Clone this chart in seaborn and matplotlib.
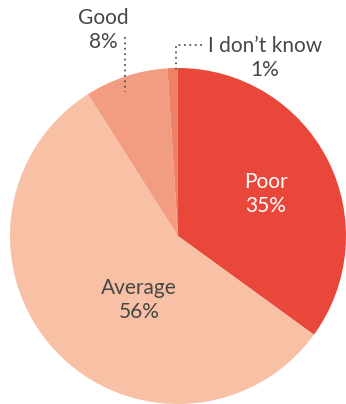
import numpy as np
import seaborn as sns
import matplotlib.pyplot as plt

# survey answers, clockwise from 12 o'clock
categories = ['Poor', 'Average', 'Good', "I don\u2019t know"]
shares = [35, 56, 8, 1]
colors = ['#E8473A', '#F8C0A5', '#F29C82', '#EE8066']

sns.set_style('white')
plt.rcParams['font.family'] = ['Lato', 'DejaVu Sans']

W, H = 346, 404
cx, cy, R = 178, 236, 168  # pie centre / radius in pixels


def px(x, y):
    # pixel position (from top-left) -> data coords
    return (x - cx) / R, (cy - y) / R


fig = plt.figure(figsize=(W / 100, H / 100), dpi=100)
ax = fig.add_axes([0, 0, 1, 1])
ax.pie(shares, colors=colors, startangle=90, counterclock=False,
       radius=1, wedgeprops=dict(linewidth=0))
ax.set_xlim(-cx / R, (W - cx) / R)
ax.set_ylim(-(H - cy) / R, cy / R)
ax.set_aspect('auto')
ax.axis('off')

grey = '#474747'
fs = 15
ls = 1.3

# inside labels
ax.text(*px(266, 194), f'{categories[0]}\n{shares[0]}%', color='white',
        fontsize=fs, ha='center', va='center', linespacing=ls)
ax.text(*px(139, 300), f'{categories[1]}\n{shares[1]}%', color=grey,
        fontsize=fs, ha='center', va='center', linespacing=ls)

# outside labels with dotted leaders
ax.text(*px(103, 30), f'{categories[2]}\n{shares[2]}%', color=grey,
        fontsize=fs, ha='center', va='center', linespacing=ls)
x0, y0 = px(125, 37)
x1, y1 = px(125, 92)
ax.plot([x0, x1], [y0, y1], ls=(0, (1, 2)), color='#555555', lw=1.3)

ax.text(*px(265, 58), f'{categories[3]}\n{shares[3]}%', color=grey,
        fontsize=fs, ha='center', va='center', linespacing=ls)
a = px(202, 45)
b = px(176, 45)
c = px(176, 73)
ax.plot([a[0], b[0], c[0]], [a[1], b[1], c[1]], ls=(0, (1, 2)),
        color='#555555', lw=1.3)

fig.savefig('out.png', dpi=100, facecolor='white')
